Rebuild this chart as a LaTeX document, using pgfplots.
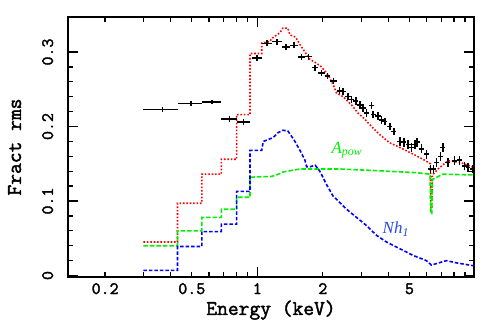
\documentclass[border=0pt]{standalone}
\usepackage{fontspec}
\setmainfont{Liberation Serif}
\newfontfamily\slabfont{Latin Modern Mono}[FakeBold=2]
\usepackage{pgfplots}
\pgfplotsset{compat=1.18}
\definecolor{mred}{RGB}{255,0,0}
\definecolor{mgreen}{RGB}{0,240,0}
\definecolor{mblue}{RGB}{0,0,255}
\definecolor{lblue}{RGB}{40,70,235}

\begin{document}
\begin{tikzpicture}[x=1bp,y=1bp]
\begin{axis}[
  at={(0,0)}, anchor=south west,
  scale only axis, width=406bp, height=260bp,
  xmode=log, xmin=0.135, xmax=9.9,
  ymin=-0.002, ymax=0.347,
  axis line style={line width=1.5bp},
  every tick/.style={black, line width=1.3bp},
  major tick length=10bp, minor tick length=5bp,
  xtick={1}, xticklabels={1},
  extra x ticks={0.2,0.5,2,5}, extra x tick labels={0.2,0.5,2,5},
  extra x tick style={major tick length=5bp},
  minor xtick={0.2,0.3,0.4,0.5,0.6,0.7,0.8,0.9,2,3,4,5,6,7,8,9},
  ytick={0,0.1,0.2,0.3}, yticklabels={0,0.1,0.2,0.3},
  minor y tick num=4,
  ticklabel style={font=\slabfont\fontsize{17.5}{17.5}\selectfont},
  xticklabel style={anchor=base, yshift=-17bp},
  yticklabel style={xshift=-15bp, rotate=90, anchor=base},
  xlabel={Energy (keV)}, ylabel={Fract rms},
  label style={font=\slabfont\fontsize{21}{21}\selectfont},
  xlabel style={at={(axis description cs:0.5,-0.1460)}, anchor=base},
  ylabel style={at={(axis description cs:-0.1158,0.5)}, anchor=base},
  clip=true,
]
% model: total (red)
\addplot[mred, line width=1.6bp, dash pattern=on 1.6bp off 1.8bp] coordinates {
(0.30,0.045)(0.43,0.045)(0.43,0.097)(0.556,0.097)(0.556,0.136)(0.684,0.136)
(0.684,0.156)(0.804,0.156)(0.804,0.216)(0.926,0.216)(0.926,0.298)(1.048,0.298)
(1.048,0.312)(1.143,0.314)(1.164,0.318)(1.271,0.326)(1.312,0.332)(1.38,0.332)
(1.413,0.323)(1.50,0.320)(1.570,0.310)(1.655,0.300)(1.747,0.290)(1.845,0.286)
(1.974,0.280)(2.05,0.274)(2.117,0.269)(2.232,0.256)(2.313,0.245)(2.480,0.240)
(2.710,0.229)(2.906,0.218)(3.064,0.212)(3.230,0.205)(3.405,0.198)(3.655,0.189)
(4.062,0.178)(4.513,0.172)(5.194,0.163)(5.774,0.156)(6.086,0.152)(6.24,0.150)
(6.27,0.090)(6.33,0.090)(6.38,0.135)(6.765,0.143)(7.518,0.154)(8.506,0.152)(9.9,0.145)
};
% A_pow component (green)
\addplot[mgreen, line width=1.6bp, dash pattern=on 4.5bp off 2bp] coordinates {
(0.30,0.040)(0.43,0.040)(0.43,0.060)(0.556,0.060)(0.556,0.078)(0.684,0.078)
(0.684,0.089)(0.804,0.089)(0.804,0.105)(0.926,0.105)(0.926,0.132)(1.164,0.133)
(1.25,0.136)(1.312,0.139)(1.570,0.143)(2.394,0.143)(3.39,0.141)(5.385,0.138)
(6.22,0.136)(6.27,0.083)(6.33,0.083)(6.38,0.129)(7.11,0.136)(9.9,0.135)
};
% Nh_1 component (blue)
\addplot[mblue, line width=1.6bp, dash pattern=on 3.5bp off 2bp] coordinates {
(0.30,0.007)(0.43,0.007)(0.43,0.039)(0.556,0.039)(0.556,0.059)(0.684,0.059)
(0.684,0.069)(0.804,0.069)(0.804,0.113)(0.926,0.113)(0.926,0.168)(1.048,0.168)
(1.065,0.180)(1.18,0.185)(1.25,0.192)(1.312,0.195)(1.38,0.194)(1.413,0.190)
(1.489,0.180)(1.570,0.168)(1.655,0.155)(1.685,0.146)(1.747,0.146)(1.845,0.148)
(1.938,0.140)(2.081,0.122)(2.225,0.107)(2.394,0.098)(2.571,0.089)(2.857,0.078)
(3.176,0.067)(3.529,0.054)(3.923,0.045)(4.513,0.036)(5.194,0.027)(5.984,0.020)
(6.31,0.014)(6.65,0.016)(7.393,0.020)(8.216,0.017)(9.9,0.013)
};
% data
\addplot[black, only marks, mark=*, mark size=0pt, mark options={draw=none, fill=none},
  error bars/.cd, x dir=both, x explicit, y dir=both, y explicit,
  error mark=none, error bar style={black, line width=1.5bp}]
coordinates {
(0.367,0.2227) +- (0.067,0.003)
(0.495,0.231) +- (0.061,0.003)
(0.620,0.233) +- (0.064,0.003)
(0.745,0.210) +- (0.062,0.004)
(0.866,0.206) +- (0.060,0.004)
(0.995,0.292) +- (0.052,0.004)
(1.106,0.3116) +- (0.058,0.004)
(1.229,0.3138) +- (0.065,0.004)
(1.353,0.307) +- (0.060,0.004)
(1.478,0.309) +- (0.065,0.004)
(1.598,0.293) +- (0.057,0.004)
(1.715,0.2937) +- (0.060,0.004)
(1.840,0.279) +- (0.065,0.004)
(1.975,0.272) +- (0.070,0.004)
(2.100,0.268) +- (0.056,0.004)
(2.235,0.261) +- (0.078,0.004)
(2.39,0.248) +- (0.07,0.005)
(2.48,0.247) +- (0.07,0.005)
(2.615,0.240) +- (0.075,0.005)
(2.71,0.236) +- (0.075,0.005)
(2.837,0.234) +- (0.08,0.005)
(2.958,0.229) +- (0.085,0.005)
(3.064,0.225) +- (0.09,0.005)
(3.176,0.218) +- (0.09,0.005)
(3.348,0.228) +- (0.09,0.005)
(3.405,0.216) +- (0.09,0.005)
(3.59,0.214) +- (0.1,0.005)
(3.721,0.209) +- (0.1,0.005)
(3.853,0.207) +- (0.1,0.005)
(4.062,0.200) +- (0.11,0.005)
(4.238,0.193) +- (0.12,0.005)
(4.513,0.180) +- (0.12,0.006)
(4.709,0.179) +- (0.13,0.006)
(4.928,0.176) +- (0.13,0.006)
(5.108,0.172) +- (0.14,0.006)
(5.29,0.176) +- (0.14,0.006)
(5.42,0.179) +- (0.15,0.006)
(5.677,0.170) +- (0.15,0.006)
(5.984,0.163) +- (0.16,0.006)
(6.245,0.143) +- (0.16,0.006)
(6.466,0.143) +- (0.17,0.006)
(6.65,0.152) +- (0.17,0.006)
(6.94,0.160) +- (0.18,0.006)
(7.13,0.172) +- (0.19,0.006)
(7.52,0.152) +- (0.2,0.006)
(8.07,0.154) +- (0.21,0.006)
(8.51,0.155) +- (0.22,0.006)
(8.97,0.147) +- (0.23,0.006)
(9.29,0.145) +- (0.24,0.006)
(9.73,0.143) +- (0.25,0.006)
};
\node[text=mgreen, font=\fontsize{17}{17}\selectfont\itshape] at (axis cs:2.58,0.168) {A\textsubscript{pow}};
\node[text=lblue, font=\fontsize{17}{17}\selectfont\itshape] at (axis cs:4.33,0.062) {Nh\textsubscript{1}};
\end{axis}
\pgfresetboundingbox
\path[use as bounding box] (-68,-50) rectangle (422,277);
\end{tikzpicture}
\end{document}
